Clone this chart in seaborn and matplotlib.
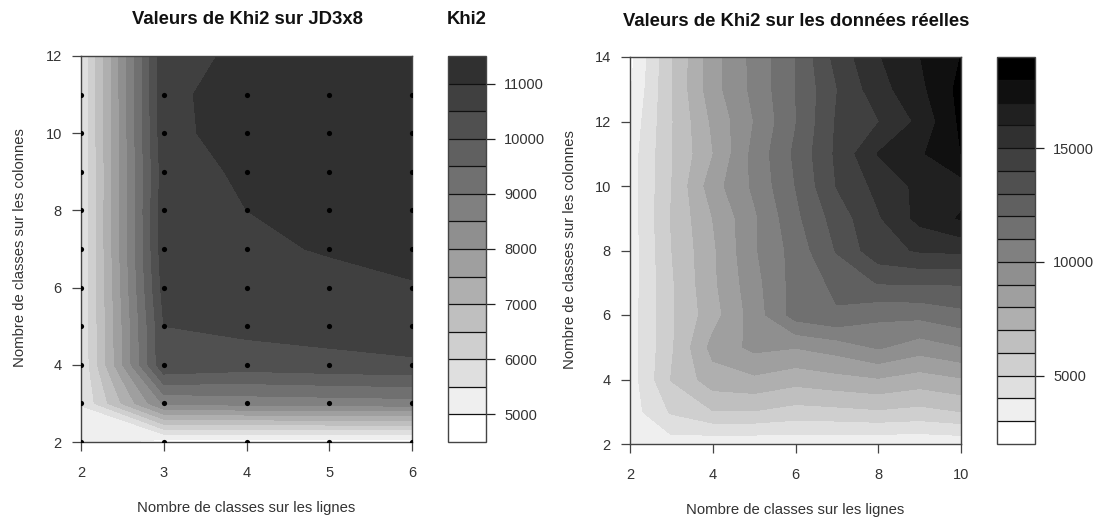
"""
Khi2 filled contours: simulated JD3x8 table vs real data.
"""

import numpy as np
import pandas as pd
import matplotlib
matplotlib.use("Agg")
import matplotlib.pyplot as plt
import seaborn as sns

# ── Data: JD3x8 ───────────────────────────────────────────────────────────────
x_left = [2, 3, 4, 5, 6]
y_left = [2, 3, 4, 5, 6, 7, 8, 9, 10, 11, 12]
z_left = [
    [5350, 4730, 4740, 4740, 4740],
    [5510, 8570, 8690, 8740, 8790],
    [5520, 10450, 10270, 10360, 10430],
    [5540, 10500, 10620, 10685, 10763],
    [5520, 10700, 10820, 10880, 10950],
    [5530, 10820, 10930, 11030, 11200],
    [5530, 10830, 11000, 11200, 11300],
    [5535, 10780, 11080, 11280, 11350],
    [5540, 10880, 11180, 11320, 11390],
    [5540, 10900, 11180, 11350, 11420],
    [5545, 10900, 11056, 11400, 11450],
]
levels_left = [4500, 5000, 5500, 6000, 6500, 7000, 7500, 8000, 8500, 9000,
               9500, 10000, 10500, 11000, 11500]
cbar_ticks_left = [5000, 6000, 7000, 8000, 9000, 10000, 11000]
dots_x = [2, 3, 4, 5, 6]
dots_y = [2, 3, 4, 5, 6, 7, 8, 9, 10, 11]

# ── Data: real table ──────────────────────────────────────────────────────────
x_right = [2, 3, 4, 5, 6, 7, 8, 9, 10]
y_right = [2, 3, 4, 5, 6, 7, 8, 9, 10, 11, 12, 13, 14]
z_right = [
    [3100, 3560, 3250, 3250, 3330, 3250, 3200, 3200, 3270],
    [3510, 5120, 5950, 5950, 5600, 5710, 5870, 5680, 6000],
    [3470, 6050, 7550, 7800, 7380, 7660, 7910, 7520, 7900],
    [3500, 5860, 8340, 9250, 9050, 9450, 10120, 9480, 9960],
    [3530, 5850, 7590, 9460, 11430, 11900, 11240, 11260, 11700],
    [3440, 5870, 7800, 9640, 11400, 12220, 13060, 13120, 13100],
    [3420, 5980, 7830, 9870, 11400, 13080, 14660, 15100, 15200],
    [3460, 6060, 8010, 9830, 11750, 13440, 14890, 16300, 17100],
    [3480, 5980, 8550, 10200, 12020, 14050, 15290, 16250, 16600],
    [3470, 5930, 7970, 10300, 12200, 14190, 16050, 16840, 18000],
    [3250, 5910, 8190, 10030, 11950, 14120, 14950, 16220, 18200],
    [2900, 5950, 8600, 10260, 12000, 13970, 15600, 16730, 18300],
    [2700, 5900, 8620, 10300, 12000, 14370, 15920, 16980, 18020],
]
levels_right = [2000, 3000, 4000, 5000, 6000, 7000, 8000, 9000, 10000, 11000,
                12000, 13000, 14000, 15000, 16000, 17000, 18000, 19000]
cbar_ticks_right = [5000, 10000, 15000]

# ── Style ─────────────────────────────────────────────────────────────────────
sns.set_style("white")
plt.rcParams["font.family"] = ["Liberation Sans", "DejaVu Sans"]
plt.rcParams["text.color"] = "#222222"

W, H = 1103, 519
FRAME = "#444444"
TEXT = "#333333"


def px_axes(fig, x0, y0, x1, y1):
    return fig.add_axes([x0 / W, 1 - y1 / H, (x1 - x0) / W, (y1 - y0) / H])


def grays(n):
    return [str(1 - i / 16) for i in range(n)]


def style_ticks(ax):
    for s in ax.spines.values():
        s.set_color(FRAME)
        s.set_linewidth(1.0)
    ax.tick_params(axis="both", length=6.3, width=0.9, color=FRAME,
                   labelsize=10.5, labelcolor=TEXT, left=True, bottom=True)
    ax.tick_params(axis="x", pad=11)
    ax.tick_params(axis="y", pad=7.5)


def draw_panel(fig, box, cbox, xs, ys, zs, levels, ticks, xticks, yticks):
    ax = px_axes(fig, *box)
    cax = px_axes(fig, *cbox)
    cs = ax.contourf(xs, ys, np.array(zs), levels=levels,
                     colors=grays(len(levels) - 1), antialiased=False)
    ax.set_xlim(xs[0], xs[-1])
    ax.set_ylim(ys[0], ys[-1])
    ax.set_xticks(xticks)
    ax.set_yticks(yticks)
    style_ticks(ax)

    cb = fig.colorbar(cs, cax=cax, drawedges=True, ticks=ticks)
    cb.dividers.set_color("#111111")
    cb.dividers.set_linewidth(0.9)
    cb.outline.set_edgecolor(FRAME)
    cb.outline.set_linewidth(1.0)
    cax.minorticks_off()
    cax.tick_params(axis="y", length=6.5, width=0.9, color="#222222",
                    labelsize=10.5, labelcolor=TEXT, pad=6.5, right=True)
    return ax


fig = plt.figure(figsize=(W / 100, H / 100), dpi=100)

# ── Left panel ────────────────────────────────────────────────────────────────
ax_l = draw_panel(fig, (81, 56, 412, 442), (448, 56, 486, 442),
                  x_left, y_left, z_left, levels_left, cbar_ticks_left,
                  [2, 3, 4, 5, 6], [2, 4, 6, 8, 10, 12])
dots = pd.DataFrame(
    [(a, b) for a in dots_x for b in dots_y], columns=["lignes", "colonnes"]
)
sns.scatterplot(data=dots, x="lignes", y="colonnes", ax=ax_l, color="black",
                s=14, linewidth=0, legend=False, zorder=5)
ax_l.set_xlabel("")
ax_l.set_ylabel("")

# ── Right panel ───────────────────────────────────────────────────────────────
draw_panel(fig, (630, 57, 961, 444), (997, 57, 1035, 444),
           x_right, y_right, z_right, levels_right, cbar_ticks_right,
           [2, 4, 6, 8, 10], [2, 4, 6, 8, 10, 12, 14])

# ── Text ──────────────────────────────────────────────────────────────────────
def txt(x, y, s, **kw):
    fig.text(x / W, 1 - y / H, s, ha="center", va="center", **kw)


txt(248, 20, "Valeurs de Khi2 sur JD3x8", fontsize=13.3, fontweight="bold", color="#111111")
txt(467, 20, "Khi2", fontsize=13.3, fontweight="bold", color="#111111")
txt(796, 21, "Valeurs de Khi2 sur les données réelles", fontsize=13.3,
    fontweight="bold", color="#111111")
txt(246, 508, "Nombre de classes sur les lignes", fontsize=10.7, color=TEXT)
txt(795, 510, "Nombre de classes sur les lignes", fontsize=10.7, color=TEXT)
txt(20, 248, "Nombre de classes sur les colonnes", fontsize=10.7, rotation=90, color=TEXT)
txt(570, 250, "Nombre de classes sur les colonnes", fontsize=10.7, rotation=90, color=TEXT)

fig.savefig("out.png", dpi=100)
plt.close(fig)
